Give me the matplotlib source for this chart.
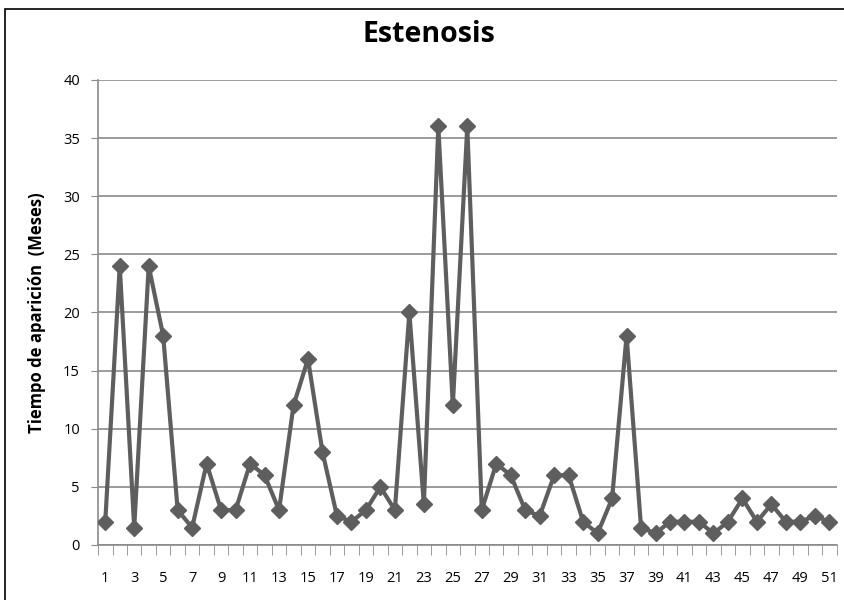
import matplotlib
matplotlib.use("Agg")
import matplotlib.pyplot as plt
from matplotlib.patches import Rectangle
from matplotlib.ticker import MultipleLocator, FixedLocator

casos = list(range(1, 52))
meses = [2, 24, 1.5, 24, 18, 3, 1.5, 7, 3, 3,
         7, 6, 3, 12, 16, 8, 2.5, 2, 3, 5,
         3, 20, 3.5, 36, 12, 36, 3, 7, 6, 3,
         2.5, 6, 6, 2, 1, 4, 18, 1.5, 1, 2,
         2, 2, 1, 2, 4, 2, 3.5, 2, 2, 2.5, 2]
xtick_labels = [str(n) for n in range(1, 52, 2)]

plt.rcParams["font.family"] = ["Open Sans", "DejaVu Sans"]

fig = plt.figure(figsize=(8.45, 6.0), dpi=100)
ax = fig.add_axes([0.116, 0.0917, 0.874, 0.775])

# outer chart border
fig.patches.append(Rectangle((5 / 845, -0.1), 1.2, 1 - 9 / 600 + 0.1,
                             transform=fig.transFigure, fill=False,
                             edgecolor="black", linewidth=1.2))

grid_c = "#8a8a8a"
ax.plot(casos, meses, color="#5e5e5e", linewidth=3, marker="D",
        markersize=8.5, markerfacecolor="#5e5e5e", markeredgecolor="#5e5e5e",
        zorder=3)

ax.set_xlim(0.5, 51.5)
ax.set_ylim(0, 40)
ax.yaxis.set_major_locator(MultipleLocator(5))
ax.grid(axis="y", color=grid_c, linewidth=1.2)
ax.set_axisbelow(True)

ax.set_xticks(list(range(1, 52, 2)))
ax.set_xticklabels(xtick_labels, fontsize=10.5)
ax.xaxis.set_minor_locator(FixedLocator([i + 0.5 for i in range(0, 52)]))
ax.tick_params(axis="x", which="major", length=0, pad=19)
ax.tick_params(axis="x", which="minor", length=7, color=grid_c, direction="out")
ax.tick_params(axis="y", length=5, color=grid_c, labelsize=10.5, pad=8)

for s in ["top", "right"]:
    ax.spines[s].set_visible(False)
for s in ["left", "bottom"]:
    ax.spines[s].set_color(grid_c)
    ax.spines[s].set_linewidth(1.2)

ax.set_ylabel("Tiempo de aparición  (Meses)", fontsize=12, fontweight="bold",
              labelpad=12)
fig.text(0.508, 0.942, "Estenosis", fontsize=20.5, fontweight="bold",
         ha="center", va="center")

fig.savefig("out.png", dpi=100)
